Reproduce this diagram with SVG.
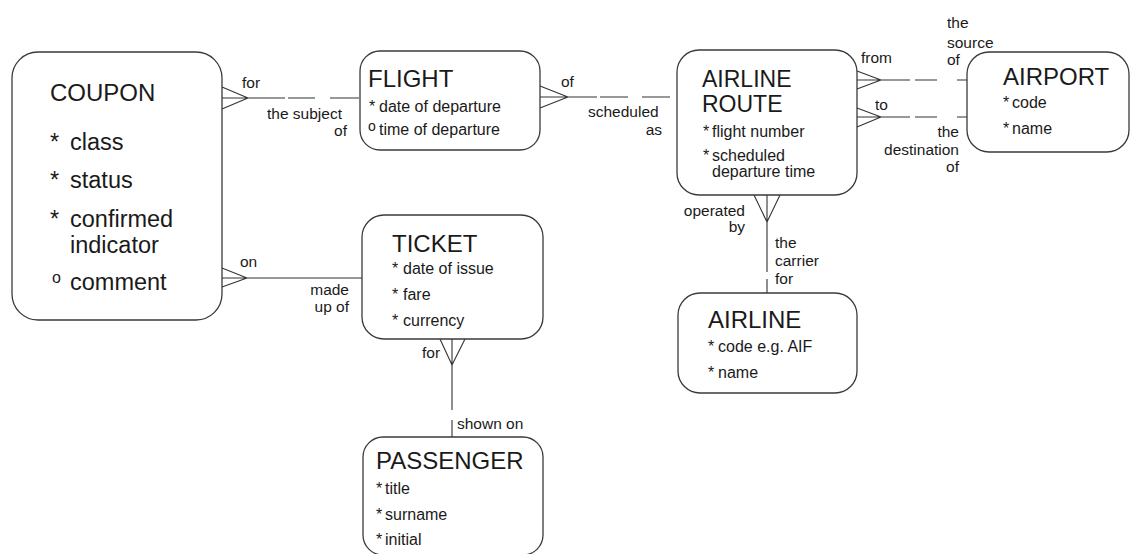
<svg xmlns="http://www.w3.org/2000/svg" width="1136" height="554" viewBox="0 0 1136 554">
<style>
.box{fill:#fff;stroke:#3a3a3a;stroke-width:1.3}
.ln{fill:none;stroke:#333;stroke-width:1.1}
.t{font-family:"Liberation Sans",Arial,sans-serif;fill:#1a1a1a}
.ti{font-size:24px}
.ti2{font-size:23px}
.at{font-size:16px}
.big{font-size:23.5px}
.lb{font-size:15.5px}
.e{text-anchor:end}
</style>
<rect width="1136" height="554" fill="#fff"/>
<g id="connectors" class="ln">
<path d="M222,87 L248,98 M222,98 L248,98 M222,109 L248,98"/>
<path d="M248,98 H285 M288,98 H315 M330,98 H359"/>
<path d="M540,86 L568,97 M540,97 L568,97 M540,108 L568,97"/>
<path d="M568,97 H597 M600,97 H628 M642,97 H670"/>
<path d="M857,71 L881,80 M857,80 L881,80 M857,89 L881,80"/>
<path d="M881,80 H910 M915,80 H937 M957,80 H967"/>
<path d="M857,108 L881,117 M857,117 L881,117 M857,127 L881,117"/>
<path d="M881,117 H910 M915,117 H937 M957,117 H967"/>
<path d="M222,268 L247,278 M222,278 L247,278 M222,287 L247,278"/>
<path d="M247,278 H362"/>
<path d="M440,339 L452,365 M452,339 L452,365 M465,339 L452,365"/>
<path d="M452,365 V410 M452,420 V437"/>
<path d="M754,195 L767,222 M767,195 L767,222 M780,195 L767,222"/>
<path d="M767,222 V272 M767,279 V293"/>
</g>
<g id="labels" class="t lb">
<text x="242" y="88">for</text>
<text x="267" y="119">the subject</text>
<text x="347" y="136" class="e">of</text>
<text x="561" y="87">of</text>
<text x="588" y="117">scheduled</text>
<text x="662" y="135" class="e">as</text>
<text x="861" y="63">from</text>
<text x="947" y="28">the</text>
<text x="947" y="48">source</text>
<text x="947" y="65">of</text>
<text x="875" y="110">to</text>
<text x="959" y="137" class="e">the</text>
<text x="959" y="155" class="e">destination</text>
<text x="959" y="172" class="e">of</text>
<text x="240" y="267">on</text>
<text x="349" y="295" class="e">made</text>
<text x="349" y="312" class="e">up of</text>
<text x="422" y="358">for</text>
<text x="457" y="429">shown on</text>
<text x="745" y="216" class="e">operated</text>
<text x="745" y="232" class="e">by</text>
<text x="775" y="248">the</text>
<text x="775" y="266">carrier</text>
<text x="775" y="284">for</text>
</g>
<g id="coupon">
<rect class="box" x="12" y="52" width="210" height="268" rx="26"/>
<text class="t ti" x="50" y="101">COUPON</text>
<text class="t big" x="50" y="150">*<tspan x="70">class</tspan></text>
<text class="t big" x="50" y="188">*<tspan x="70">status</tspan></text>
<text class="t big" x="50" y="227">*<tspan x="70">confirmed</tspan></text>
<text class="t big" x="70" y="253">indicator</text>
<text class="t big" x="52" y="290"><tspan font-size="16" dy="-7">o</tspan><tspan x="70" dy="7">comment</tspan></text>
</g>
<g id="flight">
<rect class="box" x="360" y="51" width="180" height="99" rx="20"/>
<text class="t ti" x="368" y="87">FLIGHT</text>
<text class="t at" x="369" y="112">*<tspan x="379">date of departure</tspan></text>
<text class="t at" x="368" y="135"><tspan font-size="14" dy="-4">o</tspan><tspan x="379" dy="4">time of departure</tspan></text>
</g>
<g id="airline-route">
<rect class="box" x="677" y="50" width="180" height="145" rx="22"/>
<text class="t ti2" x="702" y="87">AIRLINE</text>
<text class="t ti2" x="702" y="112">ROUTE</text>
<text class="t at" x="703" y="137">*<tspan x="712">flight number</tspan></text>
<text class="t at" x="703" y="161">*<tspan x="712">scheduled</tspan></text>
<text class="t at" x="712" y="177">departure time</text>
</g>
<g id="airport">
<rect class="box" x="967" y="52" width="162" height="100" rx="22"/>
<text class="t ti" x="1003" y="85">AIRPORT</text>
<text class="t at" x="1003" y="108">*<tspan x="1012">code</tspan></text>
<text class="t at" x="1003" y="134">*<tspan x="1012">name</tspan></text>
</g>
<g id="ticket">
<rect class="box" x="362" y="215" width="181" height="124" rx="22"/>
<text class="t ti" x="392" y="252">TICKET</text>
<text class="t at" x="392" y="274">*<tspan x="403">date of issue</tspan></text>
<text class="t at" x="392" y="300">*<tspan x="403">fare</tspan></text>
<text class="t at" x="392" y="326">*<tspan x="403">currency</tspan></text>
</g>
<g id="passenger">
<rect class="box" x="363" y="437" width="180" height="118" rx="20"/>
<text class="t ti" x="376" y="469">PASSENGER</text>
<text class="t at" x="376" y="494">*<tspan x="385">title</tspan></text>
<text class="t at" x="376" y="520">*<tspan x="385">surname</tspan></text>
<text class="t at" x="376" y="545">*<tspan x="385">initial</tspan></text>
</g>
<g id="airline">
<rect class="box" x="678" y="293" width="179" height="100" rx="22"/>
<text class="t ti" x="708" y="328">AIRLINE</text>
<text class="t at" x="708" y="352">*<tspan x="718">code e.g. AIF</tspan></text>
<text class="t at" x="708" y="378">*<tspan x="718">name</tspan></text>
</g>
</svg>
